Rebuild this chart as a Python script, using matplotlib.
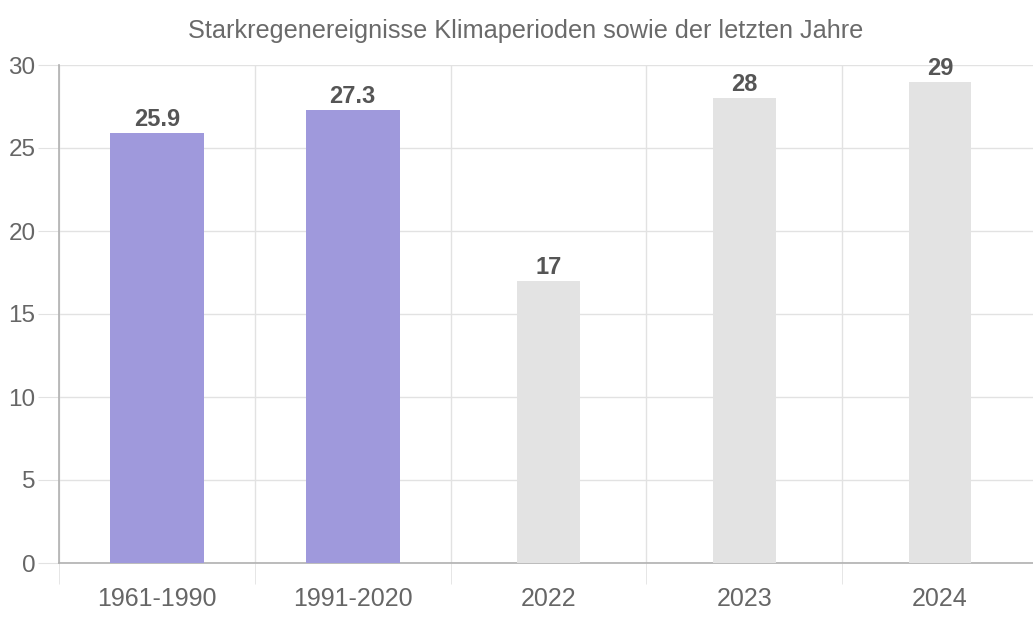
import matplotlib
matplotlib.use("Agg")
import matplotlib.pyplot as plt
from matplotlib.ticker import FixedLocator

categories = ["1961-1990", "1991-2020", "2022", "2023", "2024"]
values = [25.9, 27.3, 17, 28, 29]
labels = ["25.9", "27.3", "17", "28", "29"]
bar_colors = ["#9f99dc", "#9f99dc", "#e3e3e3", "#e3e3e3", "#e3e3e3"]
bar_widths = [0.48, 0.48, 0.32, 0.32, 0.32]
y_ticks = [0, 5, 10, 15, 20, 25, 30]
title = "Starkregenereignisse Klimaperioden sowie der letzten Jahre"

plt.rcParams['font.family'] = ['Liberation Sans', 'DejaVu Sans']

fig = plt.figure(figsize=(10.33, 6.18), dpi=100)
ax = fig.add_axes([59/1033, 55/618, 979/1033, (563-65)/618])

x = list(range(len(categories)))
bars = ax.bar(x, values, width=bar_widths, color=bar_colors, zorder=3)
for xi, v, lab in zip(x, values, labels):
    ax.annotate(lab, (xi, v), xytext=(0, 1.5), textcoords="offset points",
                ha="center", va="bottom", fontsize=17, fontweight="bold",
                color="#555555", zorder=4)

ax.set_xlim(-0.5, len(categories) - 0.5)
ax.set_ylim(0, 30)
ax.set_yticks(y_ticks)
ax.set_xticks(x)
ax.set_xticklabels(categories)
ax.xaxis.set_minor_locator(FixedLocator([i - 0.5 for i in range(len(categories) + 1)]))

ax.grid(axis="y", which="major", color="#e2e2e2", linewidth=1, zorder=0)
ax.grid(axis="x", which="minor", color="#e2e2e2", linewidth=1, zorder=0)
ax.tick_params(axis="y", which="major", length=15, color="#e2e2e2", labelsize=17.5,
               labelcolor="#666666", pad=2)
ax.tick_params(axis="x", which="major", length=0, labelsize=18, labelcolor="#666666", pad=17)
ax.tick_params(axis="x", which="minor", length=15, color="#e2e2e2")

for s in ["top", "right"]:
    ax.spines[s].set_visible(False)
for s in ["left", "bottom"]:
    ax.spines[s].set_color("#b0b0b0")
    ax.spines[s].set_linewidth(1.2)

fig.text(526/1033, 1 - 31/618, title, ha="center", va="center",
         fontsize=18.2, color="#6a6a6a")

fig.savefig("out.png", dpi=100)
